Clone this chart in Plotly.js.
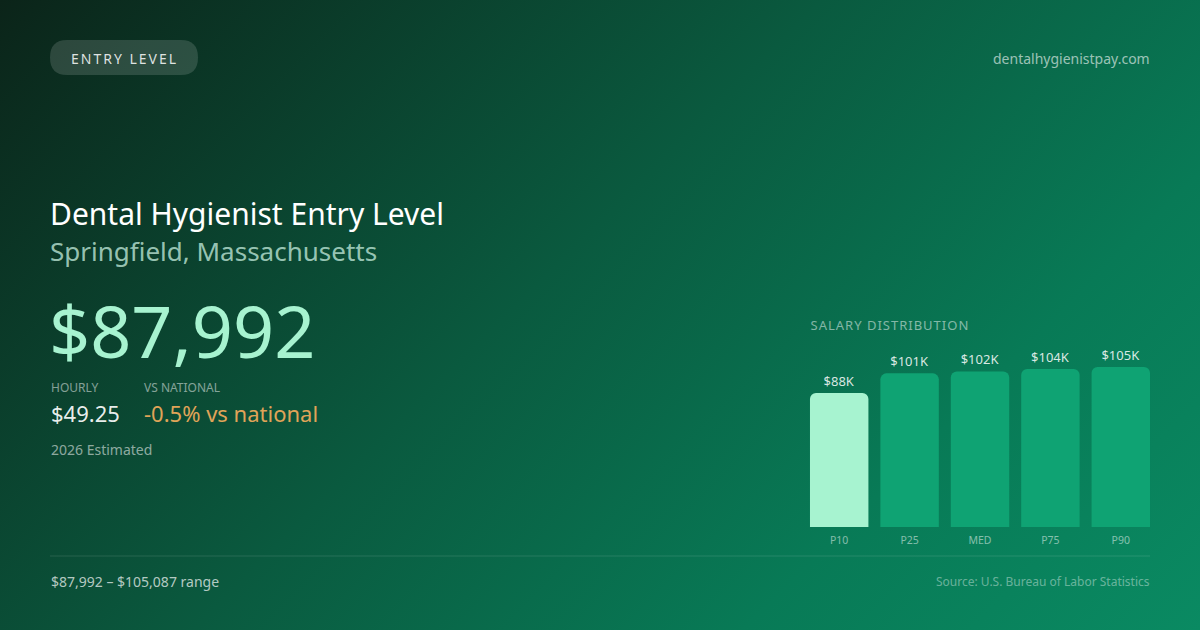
<!DOCTYPE html>
<html>
<head>
<meta charset="utf-8">
<script src="https://cdn.plot.ly/plotly-3.0.1.min.js"></script>
<style>
  html, body { margin: 0; padding: 0; }
  #chart {
    width: 1200px; height: 630px;
    background: linear-gradient(135deg, #0b2419 0%, #0a5a3f 45%, #087a56 75%, #0a8a62 100%);
  }
</style>
</head>
<body>
<div id="chart"></div>
<script>
// salary distribution for the card
const percentiles = ['P10', 'P25', 'MED', 'P75', 'P90']
const salaries = [87992, 100900, 102200, 103800, 105087]
const barColors = ['#a7f3d0', '#0fa373', '#0fa373', '#0fa373', '#0fa373']

const role = 'Dental Hygienist Entry Level'
const place = 'Springfield, Massachusetts'
const annualPay = '$87,992'
const hourlyPay = '$49.25'
const vsNational = '-0.5% vs national'

const W = 1200, H = 630
const px = x => x / W
const py = y => 1 - y / H

function label(text, x, y, size, color, anchor) {
  return {
    text: text, x: px(x), y: py(y), xref: 'paper', yref: 'paper',
    xanchor: anchor || 'left', yanchor: 'middle', showarrow: false,
    font: { family: 'Noto Sans', size: size, color: color }
  }
}

const trace = {
  type: 'bar',
  x: percentiles,
  y: salaries,
  text: salaries.map(v => '$' + Math.round(v / 1000) + 'K'),
  textposition: 'outside',
  cliponaxis: false,
  textfont: { family: 'Noto Sans', size: 13, color: 'rgba(255,255,255,0.85)' },
  marker: { color: barColors, cornerradius: 6 },
  hoverinfo: 'skip'
}

const layout = {
  width: W, height: H,
  margin: { l: 0, r: 0, t: 0, b: 0 },
  paper_bgcolor: 'rgba(0,0,0,0)',
  plot_bgcolor: 'rgba(0,0,0,0)',
  showlegend: false,
  bargap: 0.17,
  xaxis: {
    domain: [px(804), px(1156)],
    showgrid: false, zeroline: false, showline: false, ticks: '',
    ticklabelstandoff: 5,
    tickfont: { family: 'Noto Sans', size: 10.5, color: 'rgba(255,255,255,0.5)' },
    fixedrange: true
  },
  yaxis: {
    domain: [py(527), py(367)],
    range: [0, 105087],
    visible: false, fixedrange: true
  },
  shapes: [
    {
      type: 'path', xref: 'paper', yref: 'paper',
      path: `M ${px(67)},${py(40)} L ${px(181)},${py(40)} Q ${px(198)},${py(40)} ${px(198)},${py(57.5)} Q ${px(198)},${py(75)} ${px(181)},${py(75)} L ${px(67)},${py(75)} Q ${px(50)},${py(75)} ${px(50)},${py(57.5)} Q ${px(50)},${py(40)} ${px(67)},${py(40)} Z`,
      fillcolor: 'rgba(255,255,255,0.14)', line: { width: 0 }
    },
    {
      type: 'line', xref: 'paper', yref: 'paper',
      x0: px(50), x1: px(1150), y0: py(556), y1: py(556),
      line: { color: 'rgba(255,255,255,0.12)', width: 1 }
    }
  ],
  annotations: [
    label('ENTRY LEVEL', 124, 58, 14, 'rgba(255,255,255,0.85)', 'center'),
    label('dentalhygienistpay.com', 1152, 58, 14, 'rgba(255,255,255,0.6)', 'right'),
    label(role, 48, 213, 30, '#ffffff'),
    label(place, 48, 251, 26, 'rgba(190,230,215,0.8)'),
    label(annualPay, 47, 330, 72, '#a7f3d0'),
    label('HOURLY', 49, 387, 12, 'rgba(255,255,255,0.5)'),
    label('VS NATIONAL', 142, 387, 12, 'rgba(255,255,255,0.5)'),
    label(hourlyPay, 49, 413, 22, 'rgba(255,255,255,0.92)'),
    label(vsNational, 142, 413, 22, '#e0a458'),
    label('2026 Estimated', 49, 449, 14, 'rgba(255,255,255,0.55)'),
    label('SALARY DISTRIBUTION', 818, 325, 13, 'rgba(255,255,255,0.5)'),
    label('$87,992 – $105,087 range', 49, 581, 14, 'rgba(255,255,255,0.7)'),
    label('Source: U.S. Bureau of Labor Statistics', 1152, 581, 12, 'rgba(255,255,255,0.4)', 'right')
  ]
}

Plotly.newPlot('chart', [trace], layout, { displayModeBar: false, staticPlot: true }).then(gd => {
  // spaced-out caps for the badge and section heading
  gd.querySelectorAll('.annotation-text').forEach(t => {
    if (t.textContent === 'ENTRY LEVEL') t.style.letterSpacing = '2px'
    if (t.textContent === 'SALARY DISTRIBUTION') t.style.letterSpacing = '1px'
  })
})
</script>
</body>
</html>
